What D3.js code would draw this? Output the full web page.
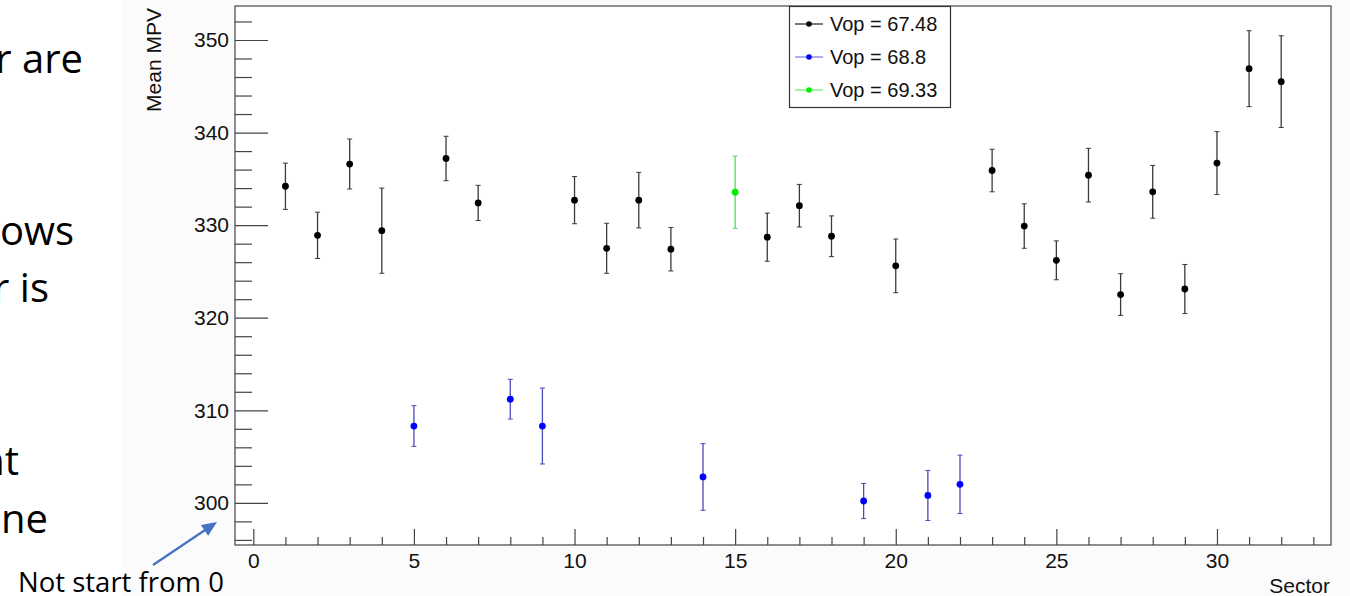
<!DOCTYPE html>
<html>
<head>
<meta charset="utf-8">
<script src="https://cdn.jsdelivr.net/npm/d3@7"></script>
<style>
  html, body { margin: 0; padding: 0; background: #ffffff; }
  svg { display: block; }
</style>
</head>
<body>
<div id="chart"></div>
<script>
// ---- data ----
const blackSectors = [1, 2, 3, 4, 6, 7, 10, 11, 12, 13, 16, 17, 18, 20, 23, 24, 25, 26, 27, 28, 29, 30, 31, 32];
const blackMPV     = [334.2, 328.9, 336.6, 329.4, 337.2, 332.4, 332.7, 327.5, 332.7, 327.4, 328.7, 332.1, 328.8, 325.6, 335.9, 329.9, 326.2, 335.4, 322.5, 333.6, 323.1, 336.7, 346.9, 345.5];
const blackErr     = [2.5, 2.5, 2.7, 4.6, 2.4, 1.9, 2.55, 2.7, 3.0, 2.35, 2.6, 2.3, 2.2, 2.9, 2.3, 2.4, 2.1, 2.9, 2.25, 2.85, 2.65, 3.4, 4.1, 4.95];

const blueSectors = [5, 8, 9, 14, 19, 21, 22];
const blueMPV     = [308.3, 311.2, 308.3, 302.8, 300.2, 300.8, 302.0];
const blueErr     = [2.2, 2.15, 4.1, 3.6, 1.9, 2.7, 3.15];

const greenSectors = [15];
const greenMPV     = [333.55];
const greenErr     = [3.9];

const legendLabels = ["Vop = 67.48", "Vop = 68.8", "Vop = 69.33"];
const yMajorTicks  = [300, 310, 320, 330, 340, 350];
const xMajorTicks  = [0, 5, 10, 15, 20, 25, 30];

// fragments of slide text cut off at the left edge
const slideLines = [
    { text: "r are", x: 83, y: 73 },
    { text: "ows",   x: 74, y: 245 },
    { text: "r is",  x: 49, y: 302 },
    { text: "nt",    x: 19, y: 475 },
    { text: "ne",    x: 48, y: 533 }
];

// ---- layout ----
const W = 1350, H = 596;
const frame = { left: 235, right: 1331, top: 6, bottom: 545 };
const axisFont = "'Liberation Sans', Arial, Helvetica, sans-serif";
const slideFont = "'Open Sans', 'Noto Sans', sans-serif";

const svg = d3.select("#chart").append("svg")
    .attr("width", W)
    .attr("height", H)
    .attr("viewBox", [0, 0, W, H]);

// canvas of the embedded ROOT picture
svg.append("rect")
    .attr("x", 122).attr("y", 0)
    .attr("width", W - 122).attr("height", H)
    .attr("fill", "#fbfbfb");

const x = d3.scaleLinear().domain([-0.57, 33.55]).range([frame.left, frame.right]);
const y = d3.scaleLinear().domain([295.45, 353.67]).range([frame.bottom, frame.top]);

// frame
svg.append("rect")
    .attr("x", frame.left).attr("y", frame.top)
    .attr("width", frame.right - frame.left)
    .attr("height", frame.bottom - frame.top)
    .attr("fill", "#ffffff")
    .attr("stroke", "#444")
    .attr("stroke-width", 1.2);

// y axis, ticks pointing inwards
const yMinor = d3.range(296, 353, 2).filter(v => v % 10 !== 0);
svg.append("g")
    .attr("transform", `translate(${frame.left},0)`)
    .call(d3.axisLeft(y).tickValues(yMinor).tickSize(-17).tickFormat(""))
    .call(g => g.select(".domain").remove());

svg.append("g")
    .attr("transform", `translate(${frame.left},0)`)
    .call(d3.axisLeft(y).tickValues(yMajorTicks).tickSize(-33).tickPadding(6).tickFormat(d3.format("d")))
    .call(g => g.select(".domain").remove())
    .call(g => g.selectAll("text")
        .attr("font-family", axisFont)
        .attr("font-size", 21)
        .attr("fill", "#111"));

// x axis
const xMinor = d3.range(0, 34, 1).filter(v => v % 5 !== 0);
svg.append("g")
    .attr("transform", `translate(0,${frame.bottom})`)
    .call(d3.axisBottom(x).tickValues(xMinor).tickSize(-8).tickFormat(""))
    .call(g => g.select(".domain").remove());

svg.append("g")
    .attr("transform", `translate(0,${frame.bottom})`)
    .call(d3.axisBottom(x).tickValues(xMajorTicks).tickSize(-16).tickPadding(8).tickFormat(d3.format("d")))
    .call(g => g.select(".domain").remove())
    .call(g => g.selectAll("text")
        .attr("font-family", axisFont)
        .attr("font-size", 21)
        .attr("fill", "#111"));

svg.selectAll(".tick line").attr("stroke", "#444").attr("stroke-width", 1.2);

// axis titles
svg.append("text")
    .attr("transform", `translate(161,8) rotate(-90)`)
    .attr("text-anchor", "end")
    .attr("font-family", axisFont)
    .attr("font-size", 21)
    .attr("fill", "#111")
    .text("Mean MPV");

svg.append("text")
    .attr("x", 1330).attr("y", 593)
    .attr("text-anchor", "end")
    .attr("font-family", axisFont)
    .attr("font-size", 21)
    .attr("fill", "#111")
    .text("Sector");

// points with error bars
function drawSeries(sectors, values, errors, dotColor, barColor)
{
    const data = sectors.map((s, i) => ({ s: s, v: values[i], e: errors[i] }));
    const g = svg.append("g");

    g.selectAll("line.bar")
        .data(data)
        .join("line")
        .attr("class", "bar")
        .attr("x1", d => x(d.s)).attr("x2", d => x(d.s))
        .attr("y1", d => y(d.v + d.e)).attr("y2", d => y(d.v - d.e))
        .attr("stroke", barColor)
        .attr("stroke-width", 1.3);

    [1, -1].forEach(sign =>
    {
        g.selectAll("line.cap" + (sign > 0 ? "t" : "b"))
            .data(data)
            .join("line")
            .attr("class", "cap" + (sign > 0 ? "t" : "b"))
            .attr("x1", d => x(d.s) - 2.5).attr("x2", d => x(d.s) + 2.5)
            .attr("y1", d => y(d.v + sign * d.e)).attr("y2", d => y(d.v + sign * d.e))
            .attr("stroke", barColor)
            .attr("stroke-width", 1);
    });

    g.selectAll("circle")
        .data(data)
        .join("circle")
        .attr("cx", d => x(d.s))
        .attr("cy", d => y(d.v))
        .attr("r", 3.4)
        .attr("fill", dotColor);
}

drawSeries(blackSectors, blackMPV, blackErr, "#000000", "#3a3a3a");
drawSeries(blueSectors, blueMPV, blueErr, "#0000ff", "#4a4ab8");
drawSeries(greenSectors, greenMPV, greenErr, "#00ee00", "#55dd55");

// legend
const legend = svg.append("g");
legend.append("rect")
    .attr("x", 789.5).attr("y", 6.5)
    .attr("width", 161).attr("height", 101)
    .attr("fill", "#ffffff")
    .attr("stroke", "#333")
    .attr("stroke-width", 1.2);

const legendColors = [
    { dot: "#000000", line: "#222222" },
    { dot: "#0000ff", line: "#7777dd" },
    { dot: "#00ee00", line: "#66ee66" }
];

legendLabels.forEach((label, i) =>
{
    const cy = 24 + i * 33;
    legend.append("line")
        .attr("x1", 795).attr("x2", 823)
        .attr("y1", cy).attr("y2", cy)
        .attr("stroke", legendColors[i].line)
        .attr("stroke-width", 1.2);
    legend.append("circle")
        .attr("cx", 809).attr("cy", cy)
        .attr("r", 2.8)
        .attr("fill", legendColors[i].dot);
    legend.append("text")
        .attr("x", 830).attr("y", cy)
        .attr("dy", "0.36em")
        .attr("font-family", axisFont)
        .attr("font-size", 20)
        .attr("fill", "#111")
        .text(label);
});

// slide text
svg.append("g")
    .selectAll("text")
    .data(slideLines)
    .join("text")
    .attr("x", d => d.x)
    .attr("y", d => d.y)
    .attr("text-anchor", "end")
    .attr("font-family", slideFont)
    .attr("font-size", 40)
    .attr("fill", "#000")
    .text(d => d.text);

// annotation arrow, head drawn as a triangle at the tip
const arrowFrom = [153, 565], arrowTo = [217, 522];
const adx = arrowTo[0] - arrowFrom[0], ady = arrowTo[1] - arrowFrom[1];
const alen = Math.hypot(adx, ady);
const ux = adx / alen, uy = ady / alen;
const headLen = 15, headHalf = 6.5;
const base = [arrowTo[0] - ux * headLen, arrowTo[1] - uy * headLen];

svg.append("line")
    .attr("x1", arrowFrom[0]).attr("y1", arrowFrom[1])
    .attr("x2", base[0] + ux * 2).attr("y2", base[1] + uy * 2)
    .attr("stroke", "#4472c4")
    .attr("stroke-width", 2.2);

svg.append("path")
    .attr("d", d3.line()([
        arrowTo,
        [base[0] - uy * headHalf, base[1] + ux * headHalf],
        [base[0] + uy * headHalf, base[1] - ux * headHalf]
    ]) + "Z")
    .attr("fill", "#4472c4");

svg.append("text")
    .attr("x", 18).attr("y", 592)
    .attr("font-family", slideFont)
    .attr("font-size", 27.5)
    .attr("fill", "#000")
    .text("Not start from 0");
</script>
</body>
</html>
